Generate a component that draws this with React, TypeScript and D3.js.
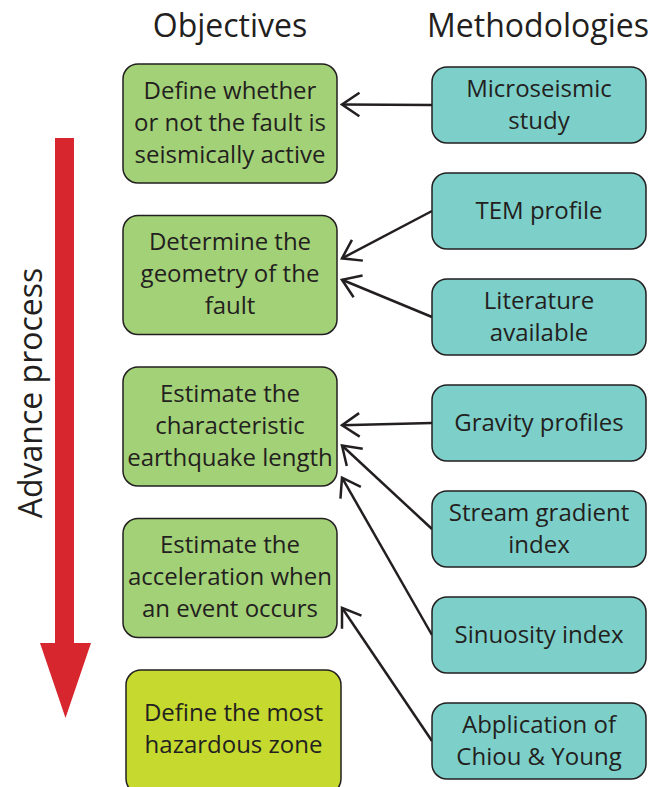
import React from "react";
import * as d3 from "d3";

const objectiveLabels: string[][] = [
  ["Define whether", "or not the fault is", "seismically active"],
  ["Determine the", "geometry of the", "fault"],
  ["Estimate the", "characteristic", "earthquake length"],
  ["Estimate the", "acceleration when", "an event occurs"],
  ["Define the most", "hazardous zone"],
];
const objectiveColors = ["#a3d177", "#a3d177", "#a3d177", "#a3d177", "#c5d92f"];

const methodLabels: string[][] = [
  ["Microseismic", "study"],
  ["TEM profile"],
  ["Literature", "available"],
  ["Gravity profiles"],
  ["Stream gradient", "index"],
  ["Sinuosity index"],
  ["Abplication of", "Chiou & Young"],
];

// links: method index -> objective index, with arrow tip position (fraction of target box height)
const linkSource = [0, 1, 2, 3, 4, 5, 6];
const linkTarget = [0, 1, 1, 2, 2, 2, 3];
const linkTipFrac = [0.34, 0.36, 0.54, 0.49, 0.66, 0.93, 0.75];

const titles = ["Objectives", "Methodologies"];
const processLabel = "Advance process";

const W = 664;
const H = 787;
const FONT = "'Open Sans', sans-serif";
const INK = "#231f20";

export default function App() {
  const objY = d3.scaleLinear().domain([0, 4]).range([64, 670]);
  const objX = d3.scaleLinear().domain([0, 1]).range([123, 337]);
  const objH = 119;
  const metY = d3.scaleLinear().domain([0, 6]).range([67, 703]);
  const metX = d3.scaleLinear().domain([0, 1]).range([432, 646]);
  const metH = 76;
  const lineGap = 32;
  const boxFont = 24;

  const arrowHead = (tx: number, ty: number, sx: number, sy: number) => {
    const ang = Math.atan2(sy - ty, sx - tx);
    const len = 21;
    const spread = (34 * Math.PI) / 180;
    const p1 = [tx + len * Math.cos(ang + spread), ty + len * Math.sin(ang + spread)];
    const p2 = [tx + len * Math.cos(ang - spread), ty + len * Math.sin(ang - spread)];
    return `M${p1[0]},${p1[1]}L${tx},${ty}L${p2[0]},${p2[1]}`;
  };

  // red process arrow
  const arrowY = d3.scaleLinear().domain([0, 1]).range([138, 718]);
  const shaftX0 = 55, shaftX1 = 74, headX0 = 40, headX1 = 91, headBase = 643;
  const redPath = d3.path();
  redPath.moveTo(shaftX0, arrowY(0));
  redPath.lineTo(shaftX1, arrowY(0));
  redPath.lineTo(shaftX1, headBase);
  redPath.lineTo(headX1, headBase);
  redPath.lineTo((headX0 + headX1) / 2, arrowY(1));
  redPath.lineTo(headX0, headBase);
  redPath.lineTo(shaftX0, headBase);
  redPath.closePath();

  return (
    <svg
      width={W}
      height={H}
      viewBox={`0 0 ${W} ${H}`}
      style={{ position: "absolute", left: 0, top: 0, background: "#fff" }}
      fontFamily={FONT}
    >
      <rect width={W} height={H} fill="#fff" />
      {/* titles */}
      <text x={230} y={37} textAnchor="middle" fontSize={32} fill={INK}>
        {titles[0]}
      </text>
      <text x={538} y={37} textAnchor="middle" fontSize={32} fill={INK}>
        {titles[1]}
      </text>

      {/* process arrow */}
      <path d={redPath.toString()} fill="#d7262e" />
      <text
        transform={`translate(42,393) rotate(-90)`}
        textAnchor="middle"
        fontSize={32}
        fill={INK}
      >
        {processLabel}
      </text>

      {/* links */}
      {linkSource.map((s, i) => {
        const sx = metX(0);
        const sy = metY(s) + metH / 2;
        const tx = objX(1) + 5;
        const ty = objY(linkTarget[i]) + objH * linkTipFrac[i];
        return (
          <g key={"l" + i} stroke={INK} strokeWidth={2.5} fill="none">
            <line x1={sx} y1={sy} x2={tx} y2={ty} />
            <path d={arrowHead(tx, ty, sx, sy)} strokeLinejoin="miter" />
          </g>
        );
      })}

      {/* objectives */}
      {objectiveLabels.map((lines, i) => {
        const y = objY(i);
        const x0 = i === 4 ? objX(0) + 3 : objX(0);
        const x1 = i === 4 ? objX(1) + 4 : objX(1);
        const cy = y + objH / 2;
        const cx = (x0 + x1) / 2;
        return (
          <g key={"o" + i}>
            <rect
              x={x0}
              y={y}
              width={x1 - x0}
              height={i === 4 ? objH + 5 : objH}
              rx={15}
              fill={objectiveColors[i]}
              stroke={INK}
              strokeWidth={1.5}
            />
            {lines.map((t, j) => (
              <text
                key={j}
                x={cx}
                y={cy + (j - (lines.length - 1) / 2) * lineGap + 7}
                textAnchor="middle"
                fontSize={boxFont}
                fill={INK}
              >
                {t}
              </text>
            ))}
          </g>
        );
      })}

      {/* methodologies */}
      {methodLabels.map((lines, i) => {
        const y = metY(i);
        const cy = y + metH / 2;
        const cx = (metX(0) + metX(1)) / 2;
        return (
          <g key={"m" + i}>
            <rect
              x={metX(0)}
              y={y}
              width={metX(1) - metX(0)}
              height={metH}
              rx={15}
              fill="#7dcfca"
              stroke={INK}
              strokeWidth={1.5}
            />
            {lines.map((t, j) => (
              <text
                key={j}
                x={cx}
                y={cy + (j - (lines.length - 1) / 2) * lineGap + 8}
                textAnchor="middle"
                fontSize={boxFont}
                fill={INK}
              >
                {t}
              </text>
            ))}
          </g>
        );
      })}
    </svg>
  );
}
